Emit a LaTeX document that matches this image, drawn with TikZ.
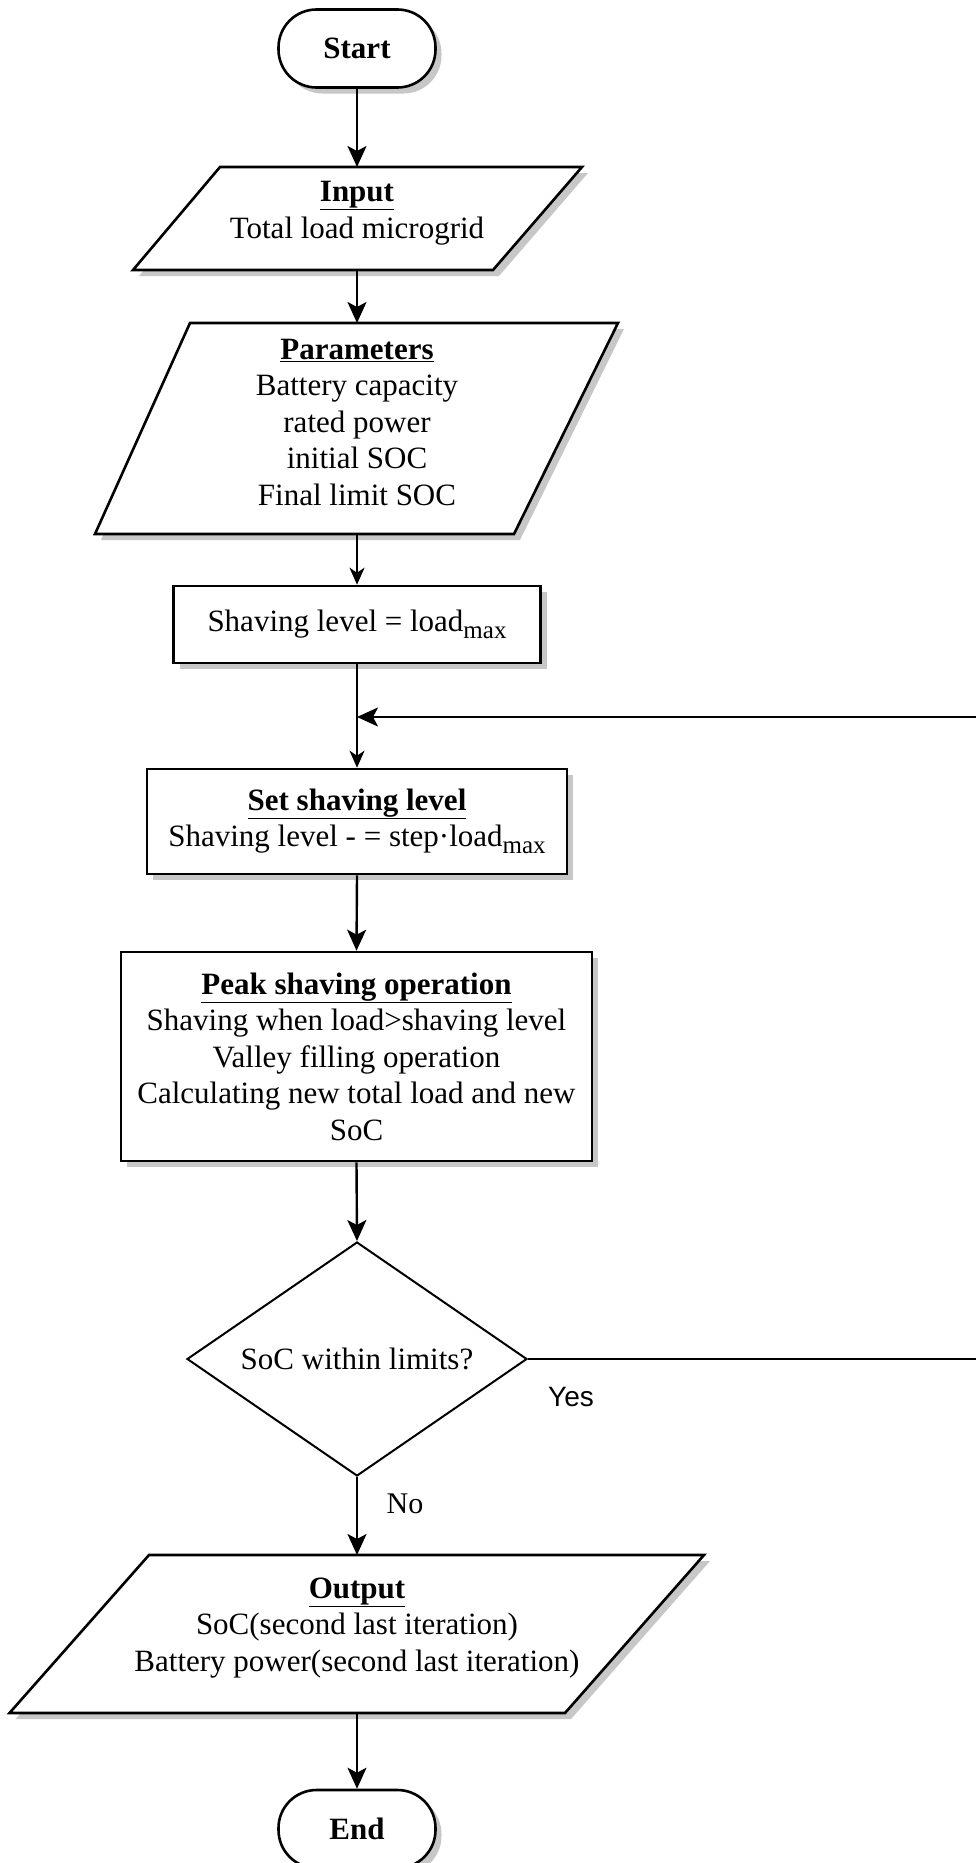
\documentclass[tikz,border=0pt]{standalone}
\usepackage{fontspec}
\setmainfont{Liberation Serif}
\newfontfamily\yesfont{Liberation Sans}
\usetikzlibrary{shapes.geometric,shadows,arrows.meta}
% parallelogram: name, TLx, TRx, BLx, BRx, top y, bottom y, axis x
\newcommand\pgramshape[8]{%
  \fill[black!22] ({#2+6},{#6+6}) -- ({#3+6},{#6+6}) -- ({#5+6},{#7+6}) -- ({#4+6},{#7+6}) -- cycle;
  \draw[pgramline] (#2,#6) -- (#3,#6) -- (#5,#7) -- (#4,#7) -- cycle;
  \coordinate (#1-n) at (#8,#6);
  \coordinate (#1-s) at (#8,#7);
}
\begin{document}
\begin{tikzpicture}[x=1pt,y=-1pt,
  shadowed/.style={drop shadow={shadow xshift=6pt,shadow yshift=-6pt,fill=black!22,opacity=1}},
  box/.style={draw=black,line width=2.6pt,fill=white,shadowed,inner sep=0pt,
    font=\fontsize{31}{36.5}\selectfont,align=center},
  term/.style={box,rectangle,rounded corners=38pt},
  pgramline/.style={draw=black,line width=2.6pt,fill=white,line join=miter},
  txt/.style={font=\fontsize{31}{36.5}\selectfont,align=center,inner sep=0pt},
  decbox/.style={draw=black,line width=2pt,fill=white,diamond,inner sep=0pt,
    font=\fontsize{31}{36.5}\selectfont},
  ln/.style={line width=2.4pt},
  arr/.style={line width=2.4pt,-{Stealth[length=21pt,width=19pt,inset=5pt]}},
  thinarr/.style={line width=1.8pt,-{Stealth[length=17pt,width=15pt,inset=5pt]}}
]
\useasboundingbox (0,0) rectangle (976,1863);
\fill[white] (0,0) rectangle (976,1863);

% nodes
\node[term,minimum width=157pt,minimum height=78pt] (start) at (357,48.5) {\textbf{Start}};

\pgramshape{in}{220}{582}{133}{493}{167}{270}{357}
\node[txt] (inT) at (357,213) {\underline{\textbf{Input}}\\Total load microgrid};

\pgramshape{par}{190}{618}{95}{514}{323}{534}{357}
\node[txt] (parT) at (357,422) {\underline{\textbf{Parameters}}\\Battery capacity\\rated power\\initial SOC\\Final limit SOC};

\node[box,rectangle,minimum width=367pt,minimum height=77pt] (shave) at (357,624.5)
  {Shaving level = load\raisebox{-7pt}{\fontsize{25}{25}\selectfont max}};

\node[box,rectangle,minimum width=420pt,minimum height=105pt] (set) at (357,821.5)
  {\underline{\textbf{Set shaving level}}\\Shaving level - = step·load\raisebox{-7pt}{\fontsize{25}{25}\selectfont max}};

\node[box,rectangle,minimum width=471pt,minimum height=209pt] (peak) at (356.5,1056.5)
  {\underline{\textbf{Peak shaving operation}}\\Shaving when load>shaving level\\Valley filling operation\\Calculating new total load and new\\SoC};

\node[decbox,minimum width=340pt,minimum height=234pt,aspect=1.453] (dec) at (357,1359)
  {SoC within limits?};

\pgramshape{out}{149}{704}{9.5}{565}{1555}{1713}{357}
\node[txt] (outT) at (357,1628) {\underline{\textbf{Output}}\\SoC(second last iteration)\\Battery power(second last iteration)};

\node[term,minimum width=157pt,minimum height=78pt] (end) at (357,1829) {\textbf{End}};

% labels
\node[font=\yesfont\fontsize{28}{30}\selectfont,inner sep=0pt] (yes) at (571,1397) {Yes};
\node[txt,font=\fontsize{30}{32}\selectfont] (no) at (405,1504) {No};

% coordinates for loop
\coordinate (fbR) at (976,717);
\coordinate (fbJ) at (357,717);
\coordinate (yesR) at (976,1359);

% connectors
\draw[arr] (start.south) -- (in-n);
\draw[arr] (in-s) -- (par-n);
\draw[thinarr] (par-s) -- (shave.north);
\draw[thinarr] (shave.south) -- (set.north);
\draw[arr] (fbR) -- (fbJ);
\draw[arr] (set.south) -- (peak.north);
\draw[arr] (peak.south) -- (dec.north);
\draw[ln] (dec.east) -- (yesR);
\draw[arr] (dec.south) -- (out-n);
\draw[arr] (out-s) -- (end.north);
\end{tikzpicture}
\end{document}
